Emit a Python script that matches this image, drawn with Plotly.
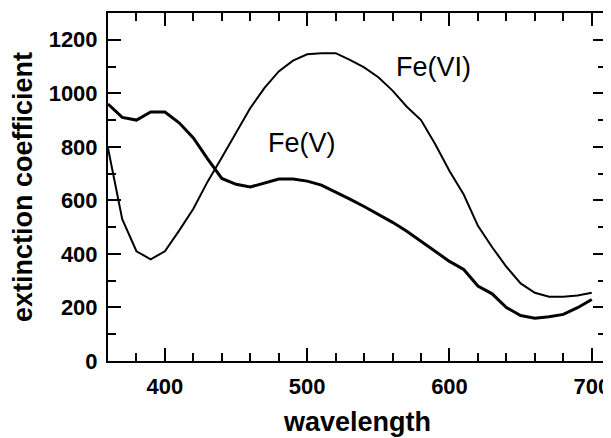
import plotly.graph_objects as go

wavelength = [360, 370, 380, 390, 400, 410, 420, 430, 440, 450, 460, 470, 480, 490,
              500, 510, 520, 530, 540, 550, 560, 570, 580, 590, 600, 610, 620, 630,
              640, 650, 660, 670, 680, 690, 700]
fe_v = [960, 910, 900, 930, 930, 890, 833, 755, 682, 660, 650, 665, 680, 680,
        672, 657, 632, 605, 577, 548, 518, 485, 448, 408, 372, 342, 280, 251,
        200, 170, 160, 165, 174, 199, 230]
fe_vi = [795, 530, 410, 380, 410, 487, 569, 670, 760, 855, 945, 1020, 1082, 1122,
         1146, 1150, 1150, 1125, 1097, 1060, 1010, 950, 900, 810, 710, 622, 505, 425,
         352, 290, 255, 240, 240, 245, 255]

labels = ["Fe(V)", "Fe(VI)"]
label_x = [496, 589]
label_y = [813, 1099]

x_title = "wavelength"
y_title = "extinction coefficient"

FONT = "Liberation Sans, Arial"

fig = go.Figure()
fig.add_trace(go.Scatter(x=wavelength, y=fe_vi, mode="lines",
                         line=dict(color="black", width=2), showlegend=False))
fig.add_trace(go.Scatter(x=wavelength, y=fe_v, mode="lines",
                         line=dict(color="black", width=3), showlegend=False))

for t, xx, yy in zip(labels, label_x, label_y):
    fig.add_annotation(x=xx, y=yy, text=t, showarrow=False,
                       font=dict(family=FONT, size=27, color="black"))

# axis titles as paper-anchored annotations (so they can sit right at the page edge)
title_font = dict(family=FONT, size=27, color="black", weight="bold")
fig.add_annotation(text=x_title, xref="paper", yref="paper", x=0.5, y=0,
                   xanchor="center", yanchor="top", yshift=-44, showarrow=False,
                   font=title_font)
fig.add_annotation(text=y_title, xref="paper", yref="paper", x=0, y=0.5,
                   xanchor="center", yanchor="middle", xshift=-85, textangle=-90,
                   showarrow=False, font=title_font)

axis_common = dict(
    showgrid=False, zeroline=False, showline=True, linecolor="black", linewidth=2,
    mirror="allticks", ticks="inside", tickcolor="black", tickwidth=2, ticklen=13,
    tickfont=dict(family=FONT, size=22, color="black", weight="bold"),
)

fig.update_xaxes(range=[360, 710], tickmode="array", tickvals=[400, 500, 600, 700],
                 minor=dict(dtick=20, tick0=360, ticks="inside", ticklen=8, tickwidth=2,
                            tickcolor="black"),
                 ticklabelstandoff=5, **axis_common)
fig.update_yaxes(range=[0, 1300], tickmode="array", tickvals=[0, 200, 400, 600, 800, 1000, 1200],
                 minor=dict(dtick=100, tick0=0, ticks="inside", ticklen=8, tickwidth=2,
                            tickcolor="black"),
                 ticklabelstandoff=4, **axis_common)

# page body has an 8px default margin; size the figure so the plot lands where the reference has it
fig.update_layout(width=603, height=430, plot_bgcolor="white", paper_bgcolor="white",
                  margin=dict(l=100, r=5, t=5, b=77, autoexpand=False))

fig.write_html("out.html")
